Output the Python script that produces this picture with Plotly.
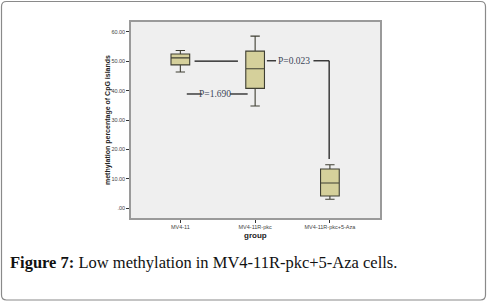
import plotly.graph_objects as go

# ---- data ----
groups = ["MV4-11", "MV4-11R-pkc", "MV4-11R-pkc+5-Aza"]
lower_whisker = [46.4, 34.8, 3.1]
q1_vals = [48.8, 40.8, 4.2]
medians = [51.2, 47.5, 8.6]
q3_vals = [52.5, 53.5, 13.4]
upper_whisker = [53.7, 58.6, 14.8]
y_ticks = [0, 10, 20, 30, 40, 50, 60]
y_tick_labels = [".00", "10.00", "20.00", "30.00", "40.00", "50.00", "60.00"]
p_labels = ["P=1.690", "P=0.023"]
p_levels = [38.9, 50.2]
bracket_top = 50.1
bracket_end = 16.8

W, H = 487, 302
L, R, T, B = 131, 107, 22, 84

fig = go.Figure()
fig.add_trace(go.Box(
    x=groups, q1=q1_vals, median=medians, q3=q3_vals,
    lowerfence=lower_whisker, upperfence=upper_whisker,
    width=0.25, fillcolor="#d5d09b",
    line=dict(color="#3f3f33", width=1.1),
    whiskerwidth=0.5, boxpoints=False, showlegend=False, hoverinfo="skip",
))

line_style = dict(color="#111", width=1.2)
shapes = []
shapes.append(dict(type="line", xref="x", yref="y", x0=0.19, x1=0.77,
                   y0=bracket_top, y1=bracket_top, line=line_style))
shapes.append(dict(type="line", xref="x", yref="y", x0=0.086, x1=0.286,
                   y0=p_levels[0], y1=p_levels[0], line=line_style))
shapes.append(dict(type="line", xref="x", yref="y", x0=0.665, x1=0.90,
                   y0=p_levels[0], y1=p_levels[0], line=line_style))
shapes.append(dict(type="line", xref="x", yref="y", x0=1.157, x1=1.28,
                   y0=p_levels[1], y1=p_levels[1], line=line_style))
shapes.append(dict(type="line", xref="x", yref="y", x0=1.78, x1=1.99,
                   y0=p_levels[1], y1=p_levels[1], line=line_style))
shapes.append(dict(type="line", xref="x", yref="y", x0=1.99, x1=1.99,
                   y0=p_levels[1], y1=bracket_end, line=line_style))

pw = W - L - R
ph = H - T - B
def px(x):
    return (x - L) / pw
def py(y):
    return 1 - (y - T) / ph
x0, x1, y0, y1, r = 1.5, 485.5, 1.5, 300.0, 5
path = (f"M {px(x0+r)},{py(y0)} L {px(x1-r)},{py(y0)} Q {px(x1)},{py(y0)} {px(x1)},{py(y0+r)} "
        f"L {px(x1)},{py(y1-r)} Q {px(x1)},{py(y1)} {px(x1-r)},{py(y1)} "
        f"L {px(x0+r)},{py(y1)} Q {px(x0)},{py(y1)} {px(x0)},{py(y1-r)} "
        f"L {px(x0)},{py(y0+r)} Q {px(x0)},{py(y0)} {px(x0+r)},{py(y0)} Z")
shapes.append(dict(type="path", xref="paper", yref="paper", path=path,
                   line=dict(color="#8a8a8a", width=1.2), layer="above"))

annotations = [
    dict(x=0.465, y=p_levels[0], xref="x", yref="y", text=p_labels[0], showarrow=False,
         font=dict(family="Liberation Serif", size=9.5, color="#3c4658")),
    dict(x=1.52, y=p_levels[1], xref="x", yref="y", text=p_labels[1], showarrow=False,
         font=dict(family="Liberation Serif", size=9.5, color="#3c4658")),
    dict(x=px(108), y=0.5, xref="paper", yref="paper", text="<b>methylation percentage of CpG islands</b>",
         textangle=-90, showarrow=False, xanchor="center", yanchor="middle",
         font=dict(family="Liberation Sans", size=7, color="#222")),
    dict(x=px(255), y=py(235.5), xref="paper", yref="paper", text="<b>group</b>",
         showarrow=False, xanchor="center", yanchor="middle",
         font=dict(family="Liberation Sans", size=8, color="#222")),
    dict(x=px(8), y=py(262), xref="paper", yref="paper",
         text="<b>Figure 7:</b> Low methylation in MV4-11R-pkc+5-Aza cells.",
         showarrow=False, xanchor="left", yanchor="middle",
         font=dict(family="Liberation Serif", size=16.5, color="#111")),
]

fig.update_layout(
    width=W, height=H,
    margin=dict(l=L, r=R, t=T, b=B, pad=0),
    paper_bgcolor="white", plot_bgcolor="#efefef",
    shapes=shapes, annotations=annotations,
    xaxis=dict(type="category", range=[-0.66, 2.67], showgrid=False, zeroline=False,
               showline=True, mirror=True, linecolor="#9a9a9a", linewidth=1.5,
               ticks="outside", ticklen=3, tickcolor="#333", tickwidth=1,
               tickfont=dict(family="Liberation Sans", size=5.5, color="#444")),
    yaxis=dict(range=[-3.3, 63.4], showgrid=False, zeroline=False,
               showline=True, mirror=True, linecolor="#9a9a9a", linewidth=1.5,
               tickvals=y_ticks, ticktext=y_tick_labels,
               ticks="outside", ticklen=3, tickcolor="#333", tickwidth=1,
               tickfont=dict(family="Liberation Sans", size=5.5, color="#444")),
)

fig.write_html("out.html", config={"displayModeBar": False},
               post_script="document.body.style.margin='0';")
